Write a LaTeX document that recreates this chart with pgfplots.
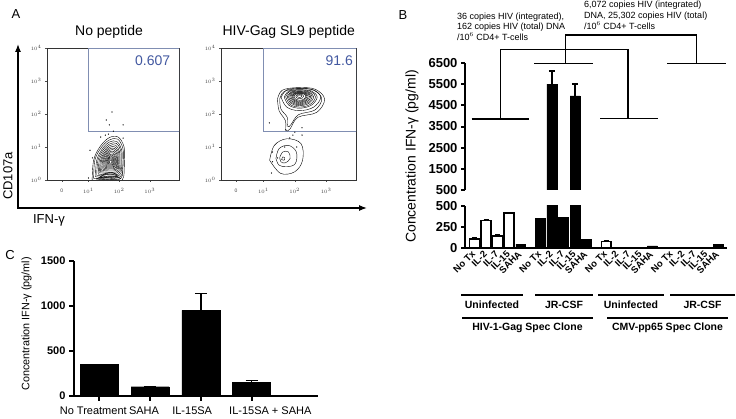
\documentclass[border=0pt]{standalone}
\usepackage{fontspec}
\setmainfont{Liberation Sans}
\usepackage{pgfplots}
\pgfplotsset{compat=1.18}
\usetikzlibrary{arrows.meta}
\definecolor{gatec}{RGB}{128,142,178}
\definecolor{numc}{RGB}{66,88,160}
\newcommand{\fs}[1]{\fontsize{#1}{#1}\selectfont}

\pgfplotsset{
  flow/.style={
    scale only axis, height=132pt,
    xmin=-0.35, xmax=3.95, ymin=0, ymax=4,
    axis line style={black!80, line width=0.5pt},
    xtick={0.13,1,2,3}, xticklabels={0,$10^1$,$10^2$,$10^3$},
    ytick={0,1,2,3,4}, yticklabels={$10^0$,$10^1$,$10^2$,$10^3$,$10^4$},
    minor xtick={-0.2,0.35,0.6,0.8,1.30,1.48,1.60,1.70,1.78,1.85,1.90,1.95,2.30,2.48,2.60,2.70,2.78,2.85,2.90,2.95,3.30,3.48,3.60,3.70,3.78,3.85,3.90},
    tick align=outside, xtick pos=bottom, ytick pos=left,
    major tick length=2pt, minor tick length=1.2pt,
    every tick/.style={black!70, line width=0.4pt},
    tick label style={font=\fs{5}, text=black!75},
    xticklabel style={yshift=-3pt},
  },
  cont/.style={black, line width=0.4pt, smooth, tension=0.6, forget plot},
  dots/.style={only marks, mark=*, mark size=0.35pt, black, forget plot},
  bstyle/.style={
    scale only axis, width=262pt, xmin=-0.82, xmax=21.86,
    tick align=outside, major tick length=4pt,
    y tick style={line width=2pt, black},
    yticklabel style={font=\bfseries\fs{13}},
    /pgf/number format/assume math mode=true,
    /pgf/number format/1000 sep={}, scaled y ticks=false,
    ybar, bar width=0.85, bar shift=0pt,
  },
}

\begin{document}
\begin{tikzpicture}
\path[use as bounding box] (0pt,0pt) rectangle (736pt,-419pt);

% ================= Panel A =================
\node[font=\fs{13}] at (16pt,-14pt) {A};
\node[font=\fs{14}] at (109pt,-32pt) {No peptide};
\node[font=\fs{14}] at (288.7pt,-32pt) {HIV-Gag SL9 peptide};
\draw[line width=1.3pt, -{Latex[length=8pt,width=6pt]}] (18pt,-208pt) -- (18pt,-44pt);
\draw[line width=1.3pt, -{Latex[length=8pt,width=6pt]}] (17.35pt,-208pt) -- (367pt,-208pt);
\node[font=\fs{13}, rotate=90] at (8pt,-176pt) {CD107a};
\node[font=\fs{13}] at (49pt,-220pt) {IFN-γ};

\begin{axis}[flow, width=132pt, at={(47pt,-180pt)}, anchor=south west]
\draw[gatec, line width=0.7pt] (axis cs:1,1.48) rectangle (axis cs:3.95,4);
% contours
\addplot[cont] coordinates {(1.12,0.00) (1.17,0.60) (1.37,1.00) (1.67,1.28) (1.97,1.30) (2.16,1.00) (2.17,0.55) (2.10,0.00) (1.60,-0.05) (1.12,0.00)};
\addplot[cont] coordinates {(1.17,0.05) (1.21,0.60) (1.40,0.96) (1.67,1.21) (1.95,1.24) (2.12,0.96) (2.13,0.55) (2.06,0.05) (1.60,0.02) (1.17,0.05)};
\addplot[cont] coordinates {(1.228,0.099) (1.269,0.591) (1.433,0.919) (1.679,1.149) (1.925,1.165) (2.081,0.919) (2.089,0.55) (2.032,0.099) (1.228,0.099)};
\addplot[cont] coordinates {(1.27,0.14) (1.31,0.59) (1.46,0.89) (1.68,1.09) (1.91,1.11) (2.05,0.89) (2.06,0.55) (2.00,0.14) (1.27,0.14)};
\addplot[cont] coordinates {(1.318,0.181) (1.351,0.584) (1.485,0.852) (1.686,1.039) (1.888,1.053) (2.015,0.852) (2.022,0.55) (1.975,0.181) (1.318,0.181)};
\addplot[cont] coordinates {(1.36,0.22) (1.39,0.58) (1.51,0.82) (1.69,0.99) (1.87,1.00) (1.99,0.82) (1.99,0.55) (1.95,0.22) (1.36,0.22)};
\addplot[cont] coordinates {(1.396,0.253) (1.423,0.577) (1.531,0.793) (1.693,0.944) (1.855,0.955) (1.958,0.793) (1.963,0.55) (1.925,0.253) (1.396,0.253)};
\addplot[cont] coordinates {(1.43,0.29) (1.46,0.57) (1.55,0.77) (1.70,0.90) (1.84,0.91) (1.93,0.77) (1.94,0.55) (1.90,0.29) (1.43,0.29)};
\addplot[cont] coordinates {(1.468,0.319) (1.489,0.571) (1.573,0.739) (1.699,0.857) (1.825,0.865) (1.905,0.739) (1.909,0.55) (1.880,0.319) (1.468,0.319)};
\addplot[cont] coordinates {(1.50,0.35) (1.52,0.57) (1.59,0.71) (1.70,0.82) (1.81,0.82) (1.88,0.71) (1.88,0.55) (1.86,0.35) (1.50,0.35)};
\addplot[cont] coordinates {(1.534,0.379) (1.549,0.566) (1.611,0.690) (1.704,0.776) (1.798,0.783) (1.856,0.690) (1.860,0.55) (1.838,0.379) (1.534,0.379)};
\addplot[cont] coordinates {(1.564,0.407) (1.577,0.563) (1.629,0.667) (1.707,0.740) (1.785,0.745) (1.834,0.667) (1.837,0.55) (1.819,0.407) (1.564,0.407)};
\addplot[cont] coordinates {(1.594,0.434) (1.604,0.561) (1.646,0.645) (1.709,0.703) (1.773,0.708) (1.812,0.645) (1.815,0.55) (1.800,0.434) (1.594,0.434)};
\addplot[cont] coordinates {(1.621,0.459) (1.629,0.558) (1.662,0.624) (1.712,0.670) (1.761,0.674) (1.793,0.624) (1.794,0.55) (1.783,0.459) (1.621,0.459)};
\addplot[cont] coordinates {(1.648,0.484) (1.654,0.556) (1.678,0.604) (1.714,0.638) (1.750,0.640) (1.773,0.604) (1.774,0.55) (1.766,0.484) (1.648,0.484)};
\addplot[cont] coordinates {(1.678,0.512) (1.682,0.554) (1.696,0.582) (1.717,0.601) (1.738,0.603) (1.751,0.582) (1.752,0.55) (1.747,0.512) (1.678,0.512)};
\addplot[cont] coordinates {(1.25,0.03) (1.50,0.10) (1.80,0.12) (2.05,0.05) (1.80,0.01) (1.50,0.01) (1.25,0.03)};
\addplot[cont] coordinates {(1.32,0.06) (1.55,0.16) (1.80,0.17) (1.98,0.08) (1.75,0.04) (1.50,0.04) (1.32,0.06)};
\addplot[cont] coordinates {(1.38,0.09) (1.58,0.21) (1.80,0.22) (1.94,0.12) (1.75,0.08) (1.52,0.07) (1.38,0.09)};
\addplot[dots] coordinates {(1.77,2.06) (1.58,1.82) (1.68,1.67) (2.13,1.67) (1.81,1.48) (1.55,1.36) (1.65,1.39) (2.13,1.27) (1.13,0.67) (1.0,0.06) (1.40,1.30) (1.05,0.9)};
\end{axis}
\node[font=\fs{14}, text=numc] at (152.7pt,-61pt) {0.607};

\begin{axis}[flow, width=135pt, at={(221pt,-180pt)}, anchor=south west]
\draw[gatec, line width=0.7pt] (axis cs:1,1.48) rectangle (axis cs:3.95,4);
\addplot[cont] coordinates {(1.45,2.45) (1.60,2.72) (2.10,2.80) (2.65,2.75) (2.95,2.45) (2.70,2.05) (2.10,1.90) (1.85,1.55) (1.72,1.50) (1.70,1.80) (1.50,2.10) (1.45,2.45)};
\addplot[cont] coordinates {(1.52,2.45) (1.66,2.68) (2.12,2.77) (2.60,2.72) (2.86,2.46) (2.64,2.12) (2.12,1.98) (1.88,1.68) (1.78,1.62) (1.76,1.90) (1.56,2.15) (1.52,2.45)};
\addplot[cont] coordinates {(1.565,2.505) (1.745,2.73) (2.15,2.775) (2.60,2.73) (2.825,2.505) (2.60,2.208) (2.15,2.10) (1.745,2.208) (1.565,2.505)};
\addplot[cont] coordinates {(1.663,2.513) (1.813,2.70) (2.15,2.738) (2.525,2.70) (2.713,2.513) (2.525,2.265) (2.15,2.175) (1.813,2.265) (1.663,2.513)};
\addplot[cont] coordinates {(1.71,2.52) (1.85,2.69) (2.15,2.72) (2.49,2.69) (2.66,2.52) (2.49,2.29) (2.15,2.21) (1.85,2.29) (1.71,2.52)};
\addplot[cont] coordinates {(1.76,2.52) (1.88,2.67) (2.15,2.70) (2.45,2.67) (2.60,2.52) (2.45,2.322) (2.15,2.25) (1.88,2.322) (1.76,2.52)};
\addplot[cont] coordinates {(1.80,2.523) (1.91,2.66) (2.15,2.685) (2.42,2.66) (2.555,2.523) (2.42,2.345) (2.15,2.28) (1.91,2.345) (1.80,2.523)};
\addplot[cont] coordinates {(1.838,2.526) (1.934,2.646) (2.15,2.67) (2.39,2.646) (2.51,2.526) (2.39,2.368) (2.15,2.31) (1.934,2.368) (1.838,2.526)};
\addplot[cont] coordinates {(1.875,2.53) (1.96,2.635) (2.15,2.655) (2.36,2.635) (2.47,2.53) (2.36,2.39) (2.15,2.34) (1.96,2.39) (1.875,2.53)};
\addplot[cont] coordinates {(1.91,2.532) (1.984,2.624) (2.15,2.643) (2.335,2.624) (2.428,2.532) (2.335,2.409) (2.15,2.365) (1.984,2.409) (1.91,2.532)};
\addplot[cont] coordinates {(1.94,2.535) (2.005,2.614) (2.15,2.63) (2.31,2.614) (2.39,2.535) (2.31,2.428) (2.15,2.39) (2.005,2.428) (1.94,2.535)};
\addplot[cont] coordinates {(1.975,2.537) (2.029,2.604) (2.15,2.618) (2.285,2.604) (2.353,2.537) (2.285,2.447) (2.15,2.415) (2.029,2.447) (1.975,2.537)};
\addplot[cont] coordinates {(2.033,2.541) (2.069,2.586) (2.15,2.595) (2.24,2.586) (2.285,2.541) (2.24,2.482) (2.15,2.46) (2.069,2.482) (2.033,2.541)};
\addplot[cont] coordinates {(2.085,2.545) (2.105,2.57) (2.15,2.575) (2.20,2.57) (2.225,2.545) (2.20,2.512) (2.15,2.50) (2.105,2.512) (2.085,2.545)};
% lower population
\addplot[cont] coordinates {(1.20,0.60) (1.35,1.05) (1.75,1.25) (2.20,1.10) (2.25,0.60) (2.00,0.25) (1.55,0.20) (1.20,0.60)};
\addplot[cont] coordinates {(1.40,0.65) (1.50,0.95) (1.80,1.05) (2.05,0.85) (2.02,0.50) (1.75,0.40) (1.50,0.45) (1.40,0.65)};
\addplot[cont] coordinates {(1.52,0.68) (1.62,0.85) (1.80,0.85) (1.85,0.65) (1.70,0.52) (1.56,0.55) (1.52,0.68)};
\addplot[cont] coordinates {(1.58,0.62) (1.62,0.70) (1.68,0.68) (1.66,0.60) (1.58,0.62)};
\addplot[dots] coordinates {(1.19,1.73) (1.71,1.52) (1.94,1.36) (2.23,1.36) (2.0,1.45) (1.84,1.27) (2.06,1.0) (1.68,1.0) (1.29,0.85) (1.29,0.55) (1.26,0.21) (1.45,0.67) (2.23,1.58)};
\end{axis}
\node[font=\fs{14}, text=numc] at (339.3pt,-61pt) {91.6};

% ================= Panel B =================
\node[font=\fs{13}] at (403pt,-15pt) {B};
\node[font=\fs{14}, rotate=90] at (412pt,-156.5pt) {Concentration IFN-γ (pg/ml)};

\begin{axis}[bstyle, at={(465pt,-248pt)}, anchor=south west, height=42pt,
  ymin=0, ymax=500,
  axis x line*=bottom, axis y line*=left,
  axis line style={line width=2.2pt},
  ytick={0,250,500},
  xtick={0,1,2,3,4,5.7,6.7,7.7,8.7,9.7,11.4,12.4,13.4,14.4,15.4,17.1,18.1,19.1,20.1,21.1},
  xticklabels={No Tx,IL-2,IL-7,IL-15,SAHA,No Tx,IL-2,IL-7,IL-15,SAHA,No Tx,IL-2,IL-7,IL-15,SAHA,No Tx,IL-2,IL-7,IL-15,SAHA},
  xticklabel style={rotate=45, anchor=east, font=\bfseries\fs{9.5}, inner sep=1pt},
  x tick style={draw=none},
]
\addplot[fill=white, draw=black, line width=1.5pt,
  error bars/.cd, y dir=plus, y explicit,
  error bar style={line width=1pt},
  error mark options={rotate=90, mark size=2.5pt, line width=1pt}]
  coordinates {(0,110) +- (0,10) (1,330) +- (0,15) (2,145) +- (0,12) (3,415) +- (0,10) (11.4,75) +- (0,10)};
\addplot[fill=black, draw=black, line width=0.5pt]
  coordinates {(4,45) (5.7,355) (6.7,5500) (7.7,365) (8.7,4950) (9.7,100) (15.4,25) (21.1,45)};
\end{axis}

\begin{axis}[bstyle, at={(465pt,-190pt)}, anchor=south west, height=127pt,
  ymin=500, ymax=6500,
  axis y line*=left, axis x line=none,
  axis line style={line width=2.2pt},
  ytick={500,1500,2500,3500,4500,5500,6500},
]
\addplot[fill=black, draw=black, line width=0.5pt,
  error bars/.cd, y dir=plus, y explicit,
  error bar style={line width=1.5pt},
  error mark options={rotate=90, mark size=3pt, line width=1.5pt}]
  coordinates {(6.7,5500) +- (0,620) (8.7,4950) +- (0,560)};
\end{axis}

% brackets
\draw[line width=1.1pt] (471.7pt,-119pt) -- (529.3pt,-119pt);
\draw[line width=1.1pt] (600pt,-118.3pt) -- (657.7pt,-118.3pt);
\draw[line width=1.1pt] (500.7pt,-119pt) -- (500.7pt,-49.3pt) -- (628pt,-49.3pt) -- (628pt,-118.3pt);
\draw[line width=1.1pt] (534pt,-63.3pt) -- (593.3pt,-63.3pt);
\draw[line width=1.1pt] (667.3pt,-63.3pt) -- (726pt,-63.3pt);
\draw[line width=1.1pt] (565.7pt,-63.3pt) -- (565.7pt,-35pt) -- (696.7pt,-35pt) -- (696.7pt,-63.3pt);
\node[font=\fs{9}, anchor=base west, inner sep=0pt] at (457pt,-19.5pt) {36 copies HIV (integrated),};
\node[font=\fs{9}, anchor=base west, inner sep=0pt] at (457pt,-30pt) {162 copies HIV (total) DNA};
\node[font=\fs{9}, anchor=base west, inner sep=0pt] at (457pt,-40.5pt) {/10$^6$ CD4+ T-cells};
\node[font=\fs{9}, anchor=base west, inner sep=0pt] at (584pt,-7.5pt) {6,072 copies HIV (integrated)};
\node[font=\fs{9}, anchor=base west, inner sep=0pt] at (584pt,-18.5pt) {DNA, 25,302 copies HIV (total)};
\node[font=\fs{9}, anchor=base west, inner sep=0pt] at (584pt,-29.5pt) {/10$^6$ CD4+ T-cells};

% group labels
\draw[line width=2pt] (461pt,-295pt) -- (523pt,-295pt);
\draw[line width=2pt] (535pt,-295pt) -- (593pt,-295pt);
\draw[line width=2pt] (598pt,-295pt) -- (664pt,-295pt);
\draw[line width=2pt] (670pt,-295pt) -- (735pt,-295pt);
\node[font=\bfseries\fs{10.5}] at (492pt,-304.5pt) {Uninfected};
\node[font=\bfseries\fs{10.5}] at (564pt,-304.5pt) {JR-CSF};
\node[font=\bfseries\fs{10.5}] at (631pt,-304.5pt) {Uninfected};
\node[font=\bfseries\fs{10.5}] at (702.5pt,-304.5pt) {JR-CSF};
\draw[line width=2pt] (462pt,-318pt) -- (593pt,-318pt);
\draw[line width=2pt] (607pt,-318pt) -- (728pt,-318pt);
\node[font=\bfseries\fs{10.5}] at (527.5pt,-328pt) {HIV-1-Gag Spec Clone};
\node[font=\bfseries\fs{10.5}] at (667.5pt,-328pt) {CMV-pp65 Spec Clone};

% ================= Panel C =================
\node[font=\fs{13}] at (10pt,-255pt) {C};
\node[font=\fs{10.8}, rotate=90] at (26.5pt,-324pt) {Concentration IFN-γ (pg/ml)};
\begin{axis}[at={(74pt,-395.7pt)}, anchor=south west, scale only axis, width=244pt, height=134.7pt,
  xmin=-0.5, xmax=4.31, ymin=0, ymax=1500,
  axis x line*=bottom, axis y line*=left, axis line style={line width=2.2pt},
  ytick={0,500,1000,1500}, yticklabel style={font=\bfseries\fs{11}},
  /pgf/number format/assume math mode=true,
  /pgf/number format/1000 sep={}, scaled y ticks=false,
  xtick={0,1,2,3}, xticklabels={},
  extra x ticks={-0.12,0.88,1.83,3.37},
  extra x tick labels={No Treatment,SAHA,IL-15SA,IL-15SA + SAHA},
  extra x tick style={major tick length=0pt, tick label style={font=\fs{11}, yshift=-8pt}},
  tick align=outside, major tick length=5pt, tick style={line width=2pt, black},
  ybar, bar width=0.75, bar shift=0pt,
]
\addplot[fill=black, draw=black,
  error bars/.cd, y dir=plus, y explicit,
  error bar style={line width=1.5pt},
  error mark options={rotate=90, mark size=6pt, line width=1.5pt}]
  coordinates {(0,350) +- (0,0) (1,100) +- (0,5) (2,950) +- (0,190) (3,145) +- (0,25)};
\end{axis}

\end{tikzpicture}
\end{document}
